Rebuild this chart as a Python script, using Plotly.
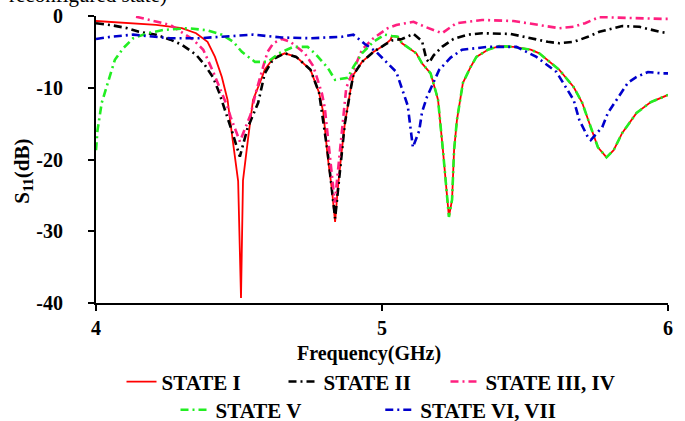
import plotly.graph_objects as go

# ---- data (frequency in GHz, S11 in dB) ----
f_state1 = [4.00, 4.10, 4.21, 4.30, 4.35, 4.39, 4.416, 4.44, 4.46, 4.478, 4.497, 4.507, 4.514, 4.531, 4.549,
            4.573, 4.59, 4.62, 4.66, 4.70, 4.75, 4.78, 4.795, 4.81, 4.825, 4.836, 4.845, 4.857, 4.87, 4.89,
            4.90, 4.93, 4.97, 5.01, 5.03, 5.035, 5.055, 5.07, 5.12, 5.14, 5.17, 5.19, 5.196, 5.213, 5.227,
            5.234, 5.245, 5.252, 5.262, 5.273, 5.283, 5.31, 5.33, 5.37, 5.41, 5.46, 5.52, 5.55, 5.62, 5.67,
            5.70, 5.73, 5.755, 5.785, 5.81, 5.84, 5.89, 5.94, 6.00]
s_state1 = [-0.7, -1.0, -1.25, -1.7, -2.4, -3.6, -5.7, -8.5, -11.7, -17.3, -23.0, -39.3, -22.9, -17.3, -11.7,
            -9.3, -7.5, -5.9, -5.2, -5.7, -7.5, -10.7, -13.5, -19.6, -24.2, -28.7, -24.2, -19.6, -15.0, -10.3,
            -8.2, -6.4, -5.0, -4.0, -3.3, -2.8, -2.9, -3.8, -5.2, -6.6, -8.0, -10.8, -11.7, -18.7, -25.6,
            -28.0, -25.6, -18.7, -14.5, -11.7, -9.3, -7.1, -5.7, -4.7, -4.2, -4.3, -4.7, -5.2, -7.5, -9.9,
            -12.1, -15.5, -18.3, -19.7, -18.7, -16.3, -13.5, -12.0, -11.0]

f_state2 = [4.00, 4.05, 4.11, 4.15, 4.21, 4.26, 4.30, 4.35, 4.38, 4.41, 4.43, 4.445, 4.475, 4.503, 4.53,
            4.567, 4.59, 4.62, 4.66, 4.70, 4.75, 4.78, 4.81, 4.836, 4.857, 4.87, 4.89, 4.90, 4.93, 4.97,
            5.01, 5.035, 5.07, 5.11, 5.14, 5.155, 5.165, 5.18, 5.21, 5.25, 5.30, 5.35, 5.45, 5.52, 5.58,
            5.62, 5.67, 5.72, 5.76, 5.84, 5.90, 5.97, 6.00]
s_state2 = [-1.0, -1.25, -1.7, -2.2, -2.6, -3.3, -4.0, -5.4, -6.8, -8.6, -10.6, -12.3, -16.0, -19.6, -15.6,
            -12.1, -8.0, -6.0, -5.2, -5.7, -7.5, -10.7, -19.0, -28.2, -19.6, -15.0, -10.3, -8.2, -6.4, -5.0,
            -4.0, -3.4, -3.2, -2.5, -3.5, -6.0, -6.5, -5.5, -4.3, -3.2, -2.6, -2.4, -2.5, -3.1, -3.6,
            -3.8, -3.6, -2.9, -2.2, -1.4, -1.5, -2.2, -2.4]

f_state3 = [4.14, 4.26, 4.34, 4.375, 4.41, 4.44, 4.46, 4.47, 4.503, 4.54, 4.56, 4.585, 4.60, 4.62, 4.65,
            4.68, 4.73, 4.76, 4.79, 4.80, 4.835, 4.875, 4.93, 4.97, 5.02, 5.05, 5.11, 5.15, 5.21, 5.26,
            5.35, 5.46, 5.55, 5.62, 5.67, 5.71, 5.76, 5.86, 5.98, 6.00]
s_state3 = [-0.1, -1.25, -3.3, -4.7, -7.8, -10.6, -12.7, -14.0, -17.5, -13.8, -10.5, -7.0, -5.0, -3.8, -3.2,
            -3.6, -5.2, -7.0, -10.8, -12.8, -26.0, -10.0, -4.7, -3.1, -1.7, -1.25, -0.8, -1.5, -2.4, -1.0,
            -0.55, -0.7, -1.25, -1.7, -1.5, -1.0, -0.15, -0.3, -0.4, -0.4]

f_state5 = [4.00, 4.005, 4.02, 4.05, 4.066, 4.095, 4.13, 4.18, 4.235, 4.32, 4.39, 4.44, 4.48, 4.51, 4.556,
            4.60, 4.64, 4.69, 4.74, 4.77, 4.81, 4.836, 4.88, 4.90, 4.93, 4.97, 5.01, 5.035, 5.055, 5.07,
            5.12, 5.14, 5.17, 5.19, 5.196, 5.213, 5.227, 5.234, 5.245, 5.252, 5.262, 5.273, 5.283, 5.31,
            5.33, 5.37, 5.41, 5.46, 5.52, 5.55, 5.62, 5.67, 5.70, 5.73, 5.755, 5.785, 5.81, 5.84, 5.89,
            5.94, 6.00]
s_state5 = [-18.7, -16.0, -12.1, -8.0, -6.1, -4.5, -3.1, -2.4, -1.95, -1.7, -2.0, -2.6, -3.6, -5.0, -6.4,
            -6.4, -5.2, -4.3, -4.3, -5.4, -7.2, -8.9, -8.6, -7.1, -5.2, -3.6, -2.6, -2.8, -2.9, -3.8,
            -5.2, -6.6, -8.0, -10.8, -11.7, -18.7, -25.6, -28.0, -25.6, -18.7, -14.5, -11.7, -9.3, -7.1,
            -5.7, -4.7, -4.2, -4.3, -4.7, -5.2, -7.5, -9.9, -12.1, -15.5, -18.3, -19.7, -18.7, -16.3, -13.5,
            -12.0, -11.0]

f_state6 = [4.00, 4.05, 4.13, 4.18, 4.26, 4.36, 4.45, 4.55, 4.65, 4.75, 4.86, 4.90, 4.94, 4.98, 5.01,
            5.05, 5.09, 5.108, 5.13, 5.14, 5.157, 5.20, 5.24, 5.28, 5.37, 5.47, 5.54, 5.61, 5.67, 5.69,
            5.72, 5.73, 5.77, 5.79, 5.82, 5.86, 5.89, 5.93, 5.98, 6.00]
s_state6 = [-3.2, -2.9, -2.6, -2.8, -3.1, -3.1, -2.9, -2.6, -3.0, -3.1, -2.9, -2.6, -3.9, -5.0, -6.2,
            -7.8, -12.5, -18.3, -16.0, -13.4, -11.3, -7.5, -5.8, -4.7, -4.3, -4.3, -5.7, -7.8, -11.7, -14.5,
            -16.9, -17.3, -15.5, -13.5, -11.7, -9.3, -8.5, -7.8, -8.0, -8.0]

names = ["STATE I", "STATE II", "STATE III, IV", "STATE V", "STATE VI, VII"]
colors = ["#FF0000", "#000000", "#FF1F7F", "#22EE22", "#0000CC"]
x_ticks = [4, 5, 6]
y_ticks = [0, -10, -20, -30, -40]

SERIF = "Liberation Serif"
DASH = "8px,4px,2px,4px"

# one single-entry legend per series, laid out in two rows like the reference
legend_ids = ["legend", "legend2", "legend3", "legend4", "legend5"]
legend_x = [0.0446, 0.3278, 0.611, 0.139, 0.497]
legend_y = [-0.275, -0.275, -0.275, -0.373, -0.373]

fig = go.Figure()
series = [(f_state1, s_state1), (f_state2, s_state2), (f_state3, s_state3),
          (f_state5, s_state5), (f_state6, s_state6)]
for i, ((fx, sy), nm, col) in enumerate(zip(series, names, colors)):
    fig.add_trace(go.Scatter(
        x=fx, y=sy, name=nm, mode="lines",
        line=dict(color=col, width=1.8 if i == 0 else 2.6, dash="solid" if i == 0 else DASH),
        legend=legend_ids[i],
    ))

legend_font = dict(family=SERIF, size=21, color="black", weight="bold")
legend_layout = {}
for lid, lx, ly in zip(legend_ids, legend_x, legend_y):
    legend_layout[lid] = dict(orientation="h", x=lx, xanchor="left", y=ly, yanchor="middle",
                              font=legend_font, bgcolor="rgba(0,0,0,0)", itemwidth=30)

fig.update_layout(
    width=685, height=421,
    margin=dict(l=96, r=17, t=16, b=118, autoexpand=False),
    paper_bgcolor="white", plot_bgcolor="white",
    font=dict(family=SERIF, color="black"),
    showlegend=True,
    **legend_layout,
)

fig.update_xaxes(range=[4, 6], tickvals=x_ticks, ticktext=[str(v) for v in x_ticks],
                 showline=True, linecolor="black", linewidth=2, mirror=False,
                 ticks="outside", ticklen=6, tickwidth=2, tickcolor="black",
                 showgrid=False, zeroline=False,
                 tickfont=dict(family=SERIF, size=20, color="black", weight="bold"))
fig.update_yaxes(range=[-40, 0], tickvals=y_ticks, ticktext=[str(v) for v in y_ticks],
                 showline=True, linecolor="black", linewidth=2,
                 ticks="outside", ticklen=6, tickwidth=2, tickcolor="black",
                 showgrid=False, zeroline=False, ticklabelstandoff=21,
                 tickfont=dict(family=SERIF, size=20, color="black", weight="bold"))

fig.add_annotation(text="Frequency(GHz)", xref="paper", yref="paper", x=0.477, y=-0.175,
                   xanchor="center", yanchor="middle", showarrow=False,
                   font=dict(family=SERIF, size=20, color="black", weight="bold"))
fig.add_annotation(text="S<sub>11</sub>(dB)", xref="paper", yref="paper", x=-0.128, y=0.46,
                   xanchor="center", yanchor="middle", showarrow=False, textangle=-90,
                   font=dict(family=SERIF, size=21, color="black", weight="bold"))
fig.add_annotation(text="reconfigured state)", xref="paper", yref="paper", x=-0.155, y=1,
                   xanchor="left", yanchor="bottom", yshift=7, showarrow=False,
                   font=dict(family=SERIF, size=21, color="black"))

fig.write_html("out.html", config={"displayModeBar": False},
               post_script="document.body.style.margin='0px';")
